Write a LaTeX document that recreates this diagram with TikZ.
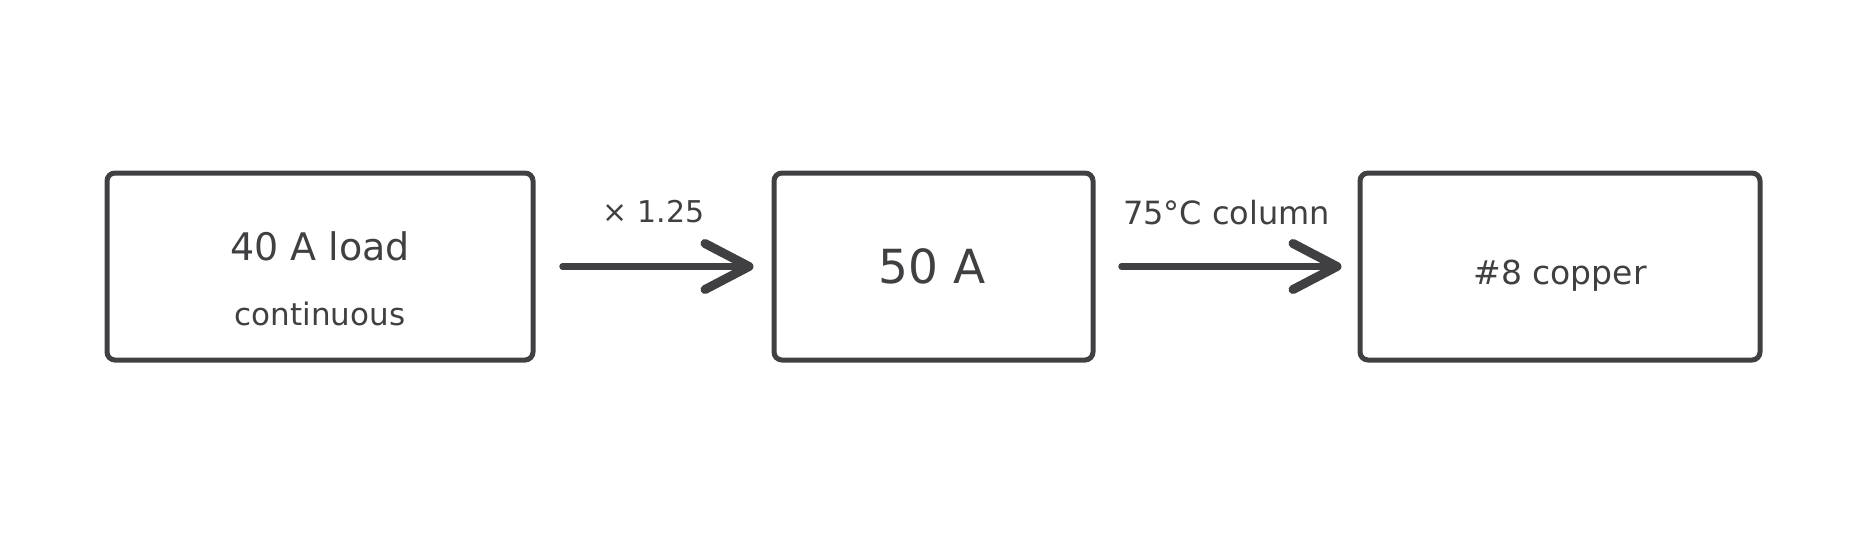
\documentclass[tikz,border=0pt]{standalone}
\usepackage{fontspec}
\setmainfont{DejaVu Sans}
\usetikzlibrary{arrows.meta}
\definecolor{ink}{HTML}{404043}
\tikzset{
  boxnode/.style={draw=ink, line width=5pt, rounded corners=8pt, minimum height=187pt, inner sep=0pt, text=ink},
  lbl/.style={text=ink, inner sep=0pt, anchor=base},
  conn/.style={draw=ink, line width=6.5pt, line cap=round,
    -{Straight Barb[length=44pt, width=46pt, line width=9pt, round]}},
}
\newcommand{\fs}[1]{\fontsize{#1}{#1}\selectfont}
\begin{document}
\begin{tikzpicture}[x=1pt,y=-1pt]
\useasboundingbox (0,0) rectangle (1867,533);
\node[boxnode, minimum width=426pt] (b1) at (320,266.5) {};
\node[boxnode, minimum width=319pt] (b2) at (933.5,266.5) {};
\node[boxnode, minimum width=400pt] (b3) at (1560,266.5) {};
\node[lbl] (t1a) at (320,260) {\fs{38pt}40 A load};
\node[lbl] (t1b) at (320,325) {\fs{31pt}continuous};
\node[lbl] (t2) at (932,283) {\fs{47pt}50 A};
\node[lbl] (t3) at (1560,284) {\fs{33pt}\#8 copper};
\draw[conn, shorten <=27pt, shorten >=18pt] (b1.east) -- (b2.west)
  node[lbl, pos=0.5, yshift=44pt] (l1) {\fs{30pt}× 1.25};
\draw[conn, shorten <=26pt, shorten >=16pt] (b2.east) -- (b3.west)
  node[lbl, pos=0.5, yshift=42pt] (l2) {\fs{32pt}75°C column};
\end{tikzpicture}
\end{document}
